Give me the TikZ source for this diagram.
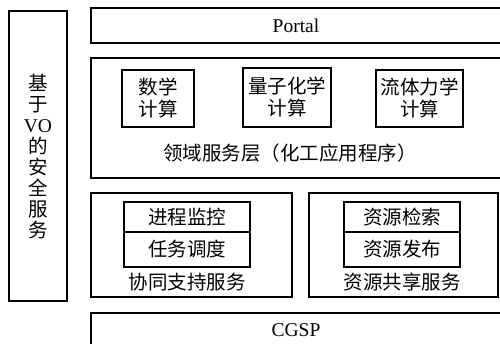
\documentclass[tikz,border=0pt]{standalone}
\usepackage{fontspec}
\setmainfont{Liberation Serif}
\newfontfamily\cjk{Noto Sans CJK SC}
\begin{document}
\begin{tikzpicture}[x=1pt,y=-1pt,
  box/.style={draw,line width=1.4pt,inner sep=0pt,rectangle},
  txt/.style={font=\cjk\fontsize{19.5}{22}\selectfont,inner sep=0pt,align=center},
  lat/.style={font=\fontsize{19.5}{22}\selectfont,inner sep=0pt}]
\path[use as bounding box,clip] (0,0) rectangle (500,343);
% left security column
\node[box,minimum width=58pt,minimum height=290pt] (sec) at (38,156) {};
\node[txt,font=\cjk\fontsize{19.5}{21}\selectfont] (sect) at (38,157) {基\\于\\{\rmfamily VO}\\的\\安\\全\\服\\务};
% portal
\node[box,minimum width=414pt,minimum height=35pt] (portal) at (298,25.5) {};
\node[lat] (portalt) at (296,26) {Portal};
% domain layer
\node[box,minimum width=414pt,minimum height=120pt] (dom) at (298,118) {};
\node[box,minimum width=72pt,minimum height=57pt,txt] (math) at (158,98.5) {数学\\计算};
\node[box,minimum width=88pt,minimum height=59pt,txt] (quant) at (287,97.5) {量子化学\\计算};
\node[box,minimum width=87pt,minimum height=57pt,txt] (fluid) at (419.5,98.5) {流体力学\\计算};
\node[txt] (domt) at (290,153) {领域服务层（化工应用程序）};
% collaboration
\node[box,minimum width=201pt,minimum height=104pt] (col) at (191.5,245) {};
\node[box,minimum width=126pt,minimum height=30pt,txt] (proc) at (187,217) {进程监控};
\node[box,minimum width=126pt,minimum height=35pt,txt] (task) at (187,249.5) {任务调度};
\node[txt] (colt) at (187,282) {协同支持服务};
% resource sharing
\node[box,minimum width=189pt,minimum height=104pt] (res) at (403.5,245) {};
\node[box,minimum width=116pt,minimum height=30pt,txt] (search) at (402,217) {资源检索};
\node[box,minimum width=116pt,minimum height=35pt,txt] (pub) at (402,249.5) {资源发布};
\node[txt] (rest) at (402,282) {资源共享服务};
% CGSP
\node[box,minimum width=414pt,minimum height=40pt] (cgsp) at (298,333) {};
\node[lat] (cgspt) at (296,330) {CGSP};
\end{tikzpicture}
\end{document}
